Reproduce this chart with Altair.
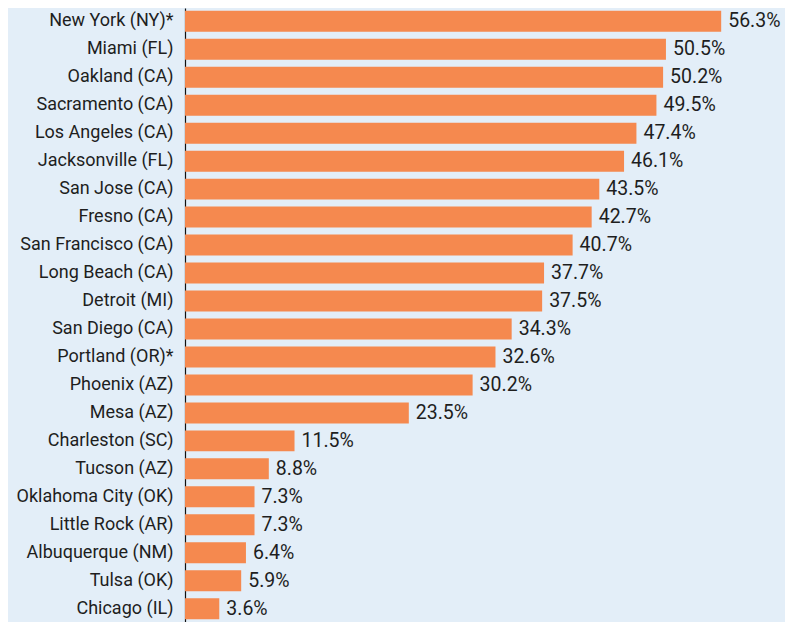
import altair as alt
import pandas as pd

cities = ["New York (NY)*", "Miami (FL)", "Oakland (CA)", "Sacramento (CA)", "Los Angeles (CA)",
          "Jacksonville (FL)", "San Jose (CA)", "Fresno (CA)", "San Francisco (CA)", "Long Beach (CA)",
          "Detroit (MI)", "San Diego (CA)", "Portland (OR)*", "Phoenix (AZ)", "Mesa (AZ)",
          "Charleston (SC)", "Tucson (AZ)", "Oklahoma City (OK)", "Little Rock (AR)",
          "Albuquerque (NM)", "Tulsa (OK)", "Chicago (IL)"]
values = [56.3, 50.5, 50.2, 49.5, 47.4, 46.1, 43.5, 42.7, 40.7, 37.7, 37.5, 34.3, 32.6, 30.2,
          23.5, 11.5, 8.8, 7.3, 7.3, 6.4, 5.9, 3.6]

df = pd.DataFrame({"city": cities, "value": values})
df["label"] = df["value"].map(lambda v: f"{v:.1f}%")

FONT = "Roboto"
y = alt.Y("city:N", sort=cities, title=None,
          scale=alt.Scale(paddingInner=0.25, paddingOuter=0.1),
          axis=alt.Axis(domain=True, domainColor="#111111", domainWidth=1.2, ticks=False,
                        labelFont=FONT, labelFontSize=18, labelColor="#1e1e1e",
                        labelPadding=12, labelLimit=300, minExtent=177, maxExtent=177))
x = alt.X("value:Q", title=None, scale=alt.Scale(domain=[0, 63]), axis=None)

bars = alt.Chart(df).mark_bar(color="#f5894f").encode(x=x, y=y)
text = alt.Chart(df).mark_text(align="left", baseline="middle", dx=7, font=FONT,
                               fontSize=19.5, color="#1e1e1e").encode(x=x, y=y, text="label:N")

chart = (bars + text).properties(width=600, height=614, background="#e3eef8",
                                 padding={"left": 0, "top": 0, "right": 0, "bottom": 0}
                                 ).configure_view(stroke=None)

chart.save("out.html", embed_options={"renderer": "svg", "actions": False})
